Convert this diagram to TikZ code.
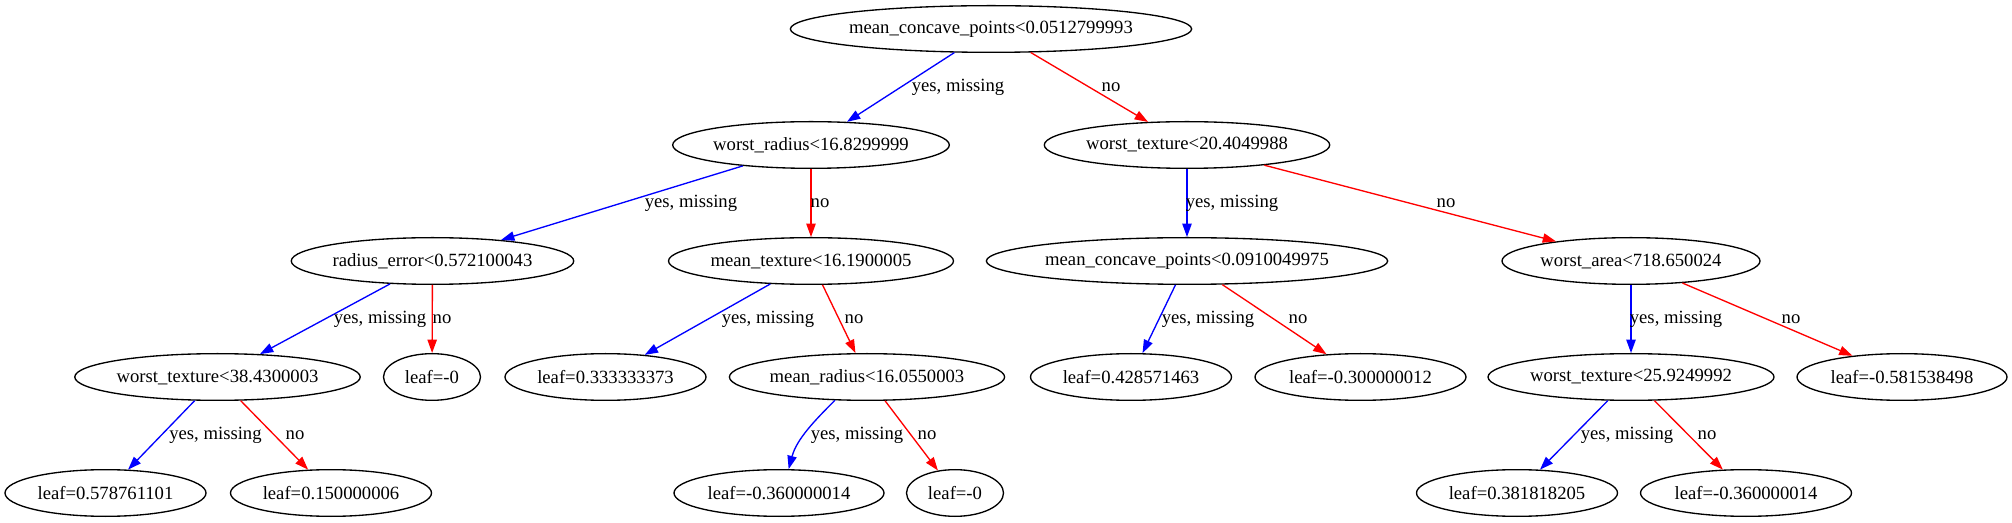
\documentclass[tikz,border=0pt]{standalone}
\usepackage{fontspec}
\setmainfont{Liberation Serif}
\usetikzlibrary{shapes.geometric,arrows.meta}
\begin{document}
\begin{tikzpicture}[x=0.75pt, y=-0.75pt,
  gv/.style={ellipse, draw, line width=1pt, inner sep=0pt, minimum height=35pt, font=\fontsize{14}{16}\selectfont},
  wd/.style={minimum width=#1*0.75pt},
  lbl/.style={inner sep=0pt, font=\fontsize{14}{16}\selectfont},
  yesE/.style={draw=blue, line width=1pt, -{Triangle[length=10pt,width=7pt,fill=blue]}},
  noE/.style={draw=red, line width=1pt, -{Triangle[length=10pt,width=7pt,fill=red]}}
]
\useasboundingbox (0,0) rectangle (2012,523);
% nodes
\node[gv, wd=389] (root) at (991,29) {mean\_concave\_points<0.0512799993};
\node[gv, wd=276] (wr) at (811,145) {worst\_radius<16.8299999};
\node[gv, wd=285] (wt) at (1187,145) {worst\_texture<20.4049988};
\node[gv, wd=281] (re) at (432.5,261) {radius\_error<0.572100043};
\node[gv, wd=285] (mt) at (811,261) {mean\_texture<16.1900005};
\node[gv, wd=388] (mcp) at (1187,261) {mean\_concave\_points<0.0910049975};
\node[gv, wd=258] (wa) at (1631,261) {worst\_area<718.650024};
\node[gv, wd=285] (wt38) at (217.5,377) {worst\_texture<38.4300003};
\node[gv, wd=97] (l0a) at (432,377) {leaf=-0};
\node[gv, wd=201] (l333) at (605.5,377) {leaf=0.333333373};
\node[gv, wd=275] (mr) at (867,377) {mean\_radius<16.0550003};
\node[gv, wd=201] (l428) at (1131,377) {leaf=0.428571463};
\node[gv, wd=211] (l30) at (1360.5,377) {leaf=-0.300000012};
\node[gv, wd=286] (wt25) at (1631,377) {worst\_texture<25.9249992};
\node[gv, wd=210] (l58) at (1902,377) {leaf=-0.581538498};
\node[gv, wd=201] (l578) at (105.5,493) {leaf=0.578761101};
\node[gv, wd=201] (l15) at (331,493) {leaf=0.150000006};
\node[gv, wd=210] (l36a) at (779,493) {leaf=-0.360000014};
\node[gv, wd=97] (l0b) at (955,493) {leaf=-0};
\node[gv, wd=201] (l381) at (1517,493) {leaf=0.381818205};
\node[gv, wd=211] (l36b) at (1746,493) {leaf=-0.360000014};
% edges
\draw[yesE] (root) -- (wr);
\draw[noE] (root) -- (wt);
\draw[yesE] (wr) -- (re);
\draw[noE] (wr) -- (mt);
\draw[yesE] (wt) -- (mcp);
\draw[noE] (wt) -- (wa);
\draw[yesE] (re) -- (wt38);
\draw[noE] (re) -- (l0a);
\draw[yesE] (mt) -- (l333);
\draw[noE] (mt) -- (mr);
\draw[yesE] (mcp) -- (l428);
\draw[noE] (mcp) -- (l30);
\draw[yesE] (wa) -- (wt25);
\draw[noE] (wa) -- (l58);
\draw[yesE] (wt38) -- (l578);
\draw[noE] (wt38) -- (l15);
\draw[yesE] (mr.216) .. controls +(-20,20) and +(8,-30) .. (l36a.68);
\draw[noE] (mr) -- (l0b);
\draw[yesE] (wt25) -- (l381);
\draw[noE] (wt25) -- (l36b);
% edge labels
\node[lbl] (e1) at (958,87) {yes, missing};
\node[lbl] (e2) at (1111,87) {no};
\node[lbl] (e3) at (691,203) {yes, missing};
\node[lbl] (e4) at (820,203) {no};
\node[lbl] (e5) at (1232,203) {yes, missing};
\node[lbl] (e6) at (1446,203) {no};
\node[lbl] (e7) at (380,319) {yes, missing};
\node[lbl] (e8) at (442,319) {no};
\node[lbl] (e9) at (768,319) {yes, missing};
\node[lbl] (e10) at (854,319) {no};
\node[lbl] (e11) at (1208,319) {yes, missing};
\node[lbl] (e12) at (1298,319) {no};
\node[lbl] (e13) at (1676,319) {yes, missing};
\node[lbl] (e14) at (1791,319) {no};
\node[lbl] (e15) at (215.5,435) {yes, missing};
\node[lbl] (e16) at (295,435) {no};
\node[lbl] (e17) at (857,435) {yes, missing};
\node[lbl] (e18) at (927,435) {no};
\node[lbl] (e19) at (1627,435) {yes, missing};
\node[lbl] (e20) at (1707,435) {no};
\end{tikzpicture}
\end{document}
